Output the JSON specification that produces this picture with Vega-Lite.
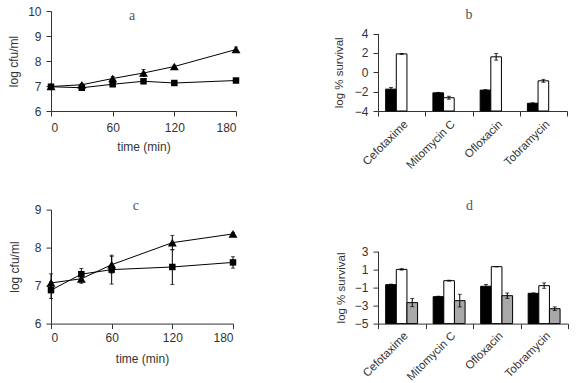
{
  "$schema": "https://vega.github.io/schema/vega-lite/v6.json",
  "padding": {"left": 7, "top": 5, "right": 0, "bottom": 0},
  "autosize": {"type": "pad"},
  "background": "white",
  "bounds": "flush",
  "columns": 2,
  "spacing": {"row": 98.6, "column": 142},
  "config": {
    "view": {"stroke": null},
    "axis": {
      "grid": false, "domainColor": "#333", "tickColor": "#333", "labelColor": "#333", "titleColor": "#333",
      "labelFont": "Liberation Sans", "titleFont": "Liberation Sans", "labelFontSize": 12, "titleFontSize": 12,
      "titleFontWeight": "normal", "tickSize": 5, "labelPadding": 5, "domainWidth": 1, "tickWidth": 1
    }
  },
  "datasets": {
    "lineA": [
      {"time": 0, "series": "tri", "value": 6.98, "err": 0.03},
      {"time": 30, "series": "tri", "value": 7.05, "err": 0.05},
      {"time": 60, "series": "tri", "value": 7.3, "err": 0.08},
      {"time": 90, "series": "tri", "value": 7.52, "err": 0.14},
      {"time": 120, "series": "tri", "value": 7.78, "err": 0.05},
      {"time": 180, "series": "tri", "value": 8.46, "err": 0.1},
      {"time": 0, "series": "sq", "value": 6.97, "err": 0.03},
      {"time": 30, "series": "sq", "value": 6.93, "err": 0.04},
      {"time": 60, "series": "sq", "value": 7.07, "err": 0.05},
      {"time": 90, "series": "sq", "value": 7.19, "err": 0.1},
      {"time": 120, "series": "sq", "value": 7.12, "err": 0.06},
      {"time": 180, "series": "sq", "value": 7.22, "err": 0.03}
    ],
    "lineC": [
      {"time": 0, "series": "tri", "value": 7.07, "err": 0.24},
      {"time": 30, "series": "tri", "value": 7.18, "err": 0.12},
      {"time": 60, "series": "tri", "value": 7.55, "err": 0.22},
      {"time": 120, "series": "tri", "value": 8.13, "err": 0.19},
      {"time": 180, "series": "tri", "value": 8.36, "err": 0.04},
      {"time": 0, "series": "sq", "value": 6.88, "err": 0.22},
      {"time": 30, "series": "sq", "value": 7.3, "err": 0.15},
      {"time": 60, "series": "sq", "value": 7.42, "err": 0.38},
      {"time": 120, "series": "sq", "value": 7.49, "err": 0.46},
      {"time": 180, "series": "sq", "value": 7.61, "err": 0.15}
    ],
    "barB": [
      {"drug": "Cefotaxime", "cond": "black", "value": -1.74, "err": 0.17},
      {"drug": "Cefotaxime", "cond": "white", "value": 1.9, "err": 0.05},
      {"drug": "Mitomycin C", "cond": "black", "value": -2.12, "err": 0.04},
      {"drug": "Mitomycin C", "cond": "white", "value": -2.63, "err": 0.15},
      {"drug": "Ofloxacin", "cond": "black", "value": -1.84, "err": 0.05},
      {"drug": "Ofloxacin", "cond": "white", "value": 1.6, "err": 0.35},
      {"drug": "Tobramycin", "cond": "black", "value": -3.2, "err": 0.05},
      {"drug": "Tobramycin", "cond": "white", "value": -0.88, "err": 0.15}
    ],
    "barD": [
      {"drug": "Cefotaxime", "cond": "black", "value": -0.69, "err": 0.05},
      {"drug": "Cefotaxime", "cond": "white", "value": 1.0, "err": 0.08},
      {"drug": "Cefotaxime", "cond": "hatched", "value": -2.68, "err": 0.45},
      {"drug": "Mitomycin C", "cond": "black", "value": -2.02, "err": 0.05},
      {"drug": "Mitomycin C", "cond": "white", "value": -0.25, "err": 0.05},
      {"drug": "Mitomycin C", "cond": "hatched", "value": -2.46, "err": 0.7},
      {"drug": "Ofloxacin", "cond": "black", "value": -0.87, "err": 0.2},
      {"drug": "Ofloxacin", "cond": "white", "value": 1.3, "err": 0.0},
      {"drug": "Ofloxacin", "cond": "hatched", "value": -1.91, "err": 0.3},
      {"drug": "Tobramycin", "cond": "black", "value": -1.65, "err": 0.05},
      {"drug": "Tobramycin", "cond": "white", "value": -0.8, "err": 0.3},
      {"drug": "Tobramycin", "cond": "hatched", "value": -3.35, "err": 0.2}
    ],
    "titles": [
      {"panel": "a", "time": 79, "value": 9.79},
      {"panel": "c", "time": 84, "value": 9.095}
    ]
  },
  "concat": [
    {
      "width": 185, "height": 100,
      "encoding": {
        "x": {"field": "time", "type": "quantitative", "scale": {"domain": [0, 180]}, "axis": {"values": [0, 60, 120, 180], "title": "time (min)", "labelPadding": 6, "titlePadding": 8}},
        "y": {"field": "value", "type": "quantitative", "scale": {"domain": [6, 10]}, "axis": {"values": [6, 7, 8, 9, 10], "title": "log cfu/ml", "titlePadding": 6.7}}
      },
      "layer": [
        {"data": {"name": "lineA"}, "mark": {"type": "line", "color": "black", "strokeWidth": 1}, "encoding": {"detail": {"field": "series"}}},
        {"data": {"name": "lineA"}, "mark": {"type": "errorbar", "color": "black", "ticks": {"size": 4}}, "encoding": {"yError": {"field": "err"}, "detail": {"field": "series"}}},
        {"data": {"name": "lineA"}, "mark": {"type": "point", "filled": true, "opacity": 1, "color": "black"},
         "encoding": {
           "shape": {"field": "series", "scale": {"domain": ["tri", "sq"], "range": ["triangle-up", "square"]}, "legend": null},
           "size": {"field": "series", "scale": {"domain": ["tri", "sq"], "range": [80, 42]}, "legend": null}
         }},
        {"data": {"name": "titles"}, "transform": [{"filter": "datum.panel == 'a'"}],
         "mark": {"type": "text", "font": "Liberation Serif", "fontSize": 14, "fill": "#555", "baseline": "middle", "align": "center"},
         "encoding": {"text": {"field": "panel"}}}
      ]
    },
    {
      "width": 189, "height": 100,
      "encoding": {
        "x": {"field": "drug", "type": "nominal", "sort": null, "scale": {"paddingInner": 0, "paddingOuter": 0}, "axis": {"title": null, "labelAngle": -45, "tickBand": "extent", "labelPadding": 2, "labelFontSize": 11.5}},
        "y": {"field": "value", "type": "quantitative", "scale": {"domain": [-4, 4], "range": [100, 22.6]}, "axis": {"values": [-4, -2, 0, 2, 4], "title": "log % survival", "titleFontSize": 11.5, "titlePadding": 10}}
      },
      "layer": [
        {"data": {"name": "barB"}, "mark": {"type": "bar", "stroke": "black", "strokeWidth": 1},
         "encoding": {
           "xOffset": {"field": "cond", "type": "nominal", "sort": ["black", "white"], "scale": {"paddingInner": 0, "paddingOuter": 0.72}},
           "y2": {"datum": -4},
           "fill": {"field": "cond", "scale": {"domain": ["black", "white", "hatched"], "range": ["black", "white", "#a8a8a8"]}, "legend": null}}},
        {"data": {"name": "barB"}, "mark": {"type": "errorbar", "color": "black", "ticks": {"size": 4}},
         "encoding": {
           "xOffset": {"field": "cond", "type": "nominal", "sort": ["black", "white"]},
           "yError": {"field": "err"}}},
        {"data": {"values": [{"panel": "b", "drug": "Ofloxacin", "value": 5.89}]},
         "mark": {"type": "text", "font": "Liberation Serif", "fontSize": 14, "fill": "#555", "baseline": "middle", "align": "right"},
         "encoding": {
           "text": {"field": "panel"},
           "x": {"field": "drug", "type": "nominal", "sort": null, "bandPosition": 0, "scale": {"paddingInner": 0, "paddingOuter": 0}, "axis": {"title": null, "labelAngle": -45, "tickBand": "extent", "labelPadding": 2, "labelFontSize": 11.5}}}}
      ]
    },
    {
      "width": 182, "height": 114,
      "encoding": {
        "x": {"field": "time", "type": "quantitative", "scale": {"domain": [0, 180]}, "axis": {"values": [0, 60, 120, 180], "title": "time (min)", "labelPadding": 4, "titlePadding": 10}},
        "y": {"field": "value", "type": "quantitative", "scale": {"domain": [6, 9]}, "axis": {"values": [6, 7, 8, 9], "title": "log cfu/ml", "titlePadding": 12.7}}
      },
      "layer": [
        {"data": {"name": "lineC"}, "mark": {"type": "line", "color": "black", "strokeWidth": 1}, "encoding": {"detail": {"field": "series"}}},
        {"data": {"name": "lineC"}, "mark": {"type": "errorbar", "color": "black", "ticks": {"size": 4}}, "encoding": {"yError": {"field": "err"}, "detail": {"field": "series"}}},
        {"data": {"name": "lineC"}, "mark": {"type": "point", "filled": true, "opacity": 1, "color": "black"},
         "encoding": {
           "shape": {"field": "series", "scale": {"domain": ["tri", "sq"], "range": ["triangle-up", "square"]}, "legend": null},
           "size": {"field": "series", "scale": {"domain": ["tri", "sq"], "range": [80, 42]}, "legend": null}
         }},
        {"data": {"name": "titles"}, "transform": [{"filter": "datum.panel == 'c'"}],
         "mark": {"type": "text", "font": "Liberation Serif", "fontSize": 14, "fill": "#555", "baseline": "middle", "align": "center"},
         "encoding": {"text": {"field": "panel"}}}
      ]
    },
    {
      "width": 190, "height": 114,
      "encoding": {
        "x": {"field": "drug", "type": "nominal", "sort": null, "scale": {"paddingInner": 0, "paddingOuter": 0}, "axis": {"title": null, "labelAngle": -45, "tickBand": "extent", "labelPadding": 1, "labelFontSize": 11.5}},
        "y": {"field": "value", "type": "quantitative", "scale": {"domain": [-5, 3], "range": [114, 41.7]}, "axis": {"values": [-5, -3, -1, 1, 3], "title": "log % survival", "titleFontSize": 11.5, "titlePadding": 8}}
      },
      "layer": [
        {"data": {"name": "barD"}, "mark": {"type": "bar", "stroke": "black", "strokeWidth": 1},
         "encoding": {
           "xOffset": {"field": "cond", "type": "nominal", "sort": ["black", "white", "hatched"], "scale": {"paddingInner": 0, "paddingOuter": 0.64}},
           "y2": {"datum": -5},
           "fill": {"field": "cond", "scale": {"domain": ["black", "white", "hatched"], "range": ["black", "white", "#a8a8a8"]}, "legend": null}}},
        {"data": {"name": "barD"}, "mark": {"type": "errorbar", "color": "black", "ticks": {"size": 4}},
         "encoding": {
           "xOffset": {"field": "cond", "type": "nominal", "sort": ["black", "white", "hatched"]},
           "yError": {"field": "err"}}},
        {"data": {"values": [{"panel": "d", "drug": "Ofloxacin", "value": 7.98}]},
         "mark": {"type": "text", "font": "Liberation Serif", "fontSize": 14, "fill": "#555", "baseline": "middle", "align": "right"},
         "encoding": {
           "text": {"field": "panel"},
           "x": {"field": "drug", "type": "nominal", "sort": null, "bandPosition": 0, "scale": {"paddingInner": 0, "paddingOuter": 0}, "axis": {"title": null, "labelAngle": -45, "tickBand": "extent", "labelPadding": 1, "labelFontSize": 11.5}}}}
      ]
    }
  ]
}
